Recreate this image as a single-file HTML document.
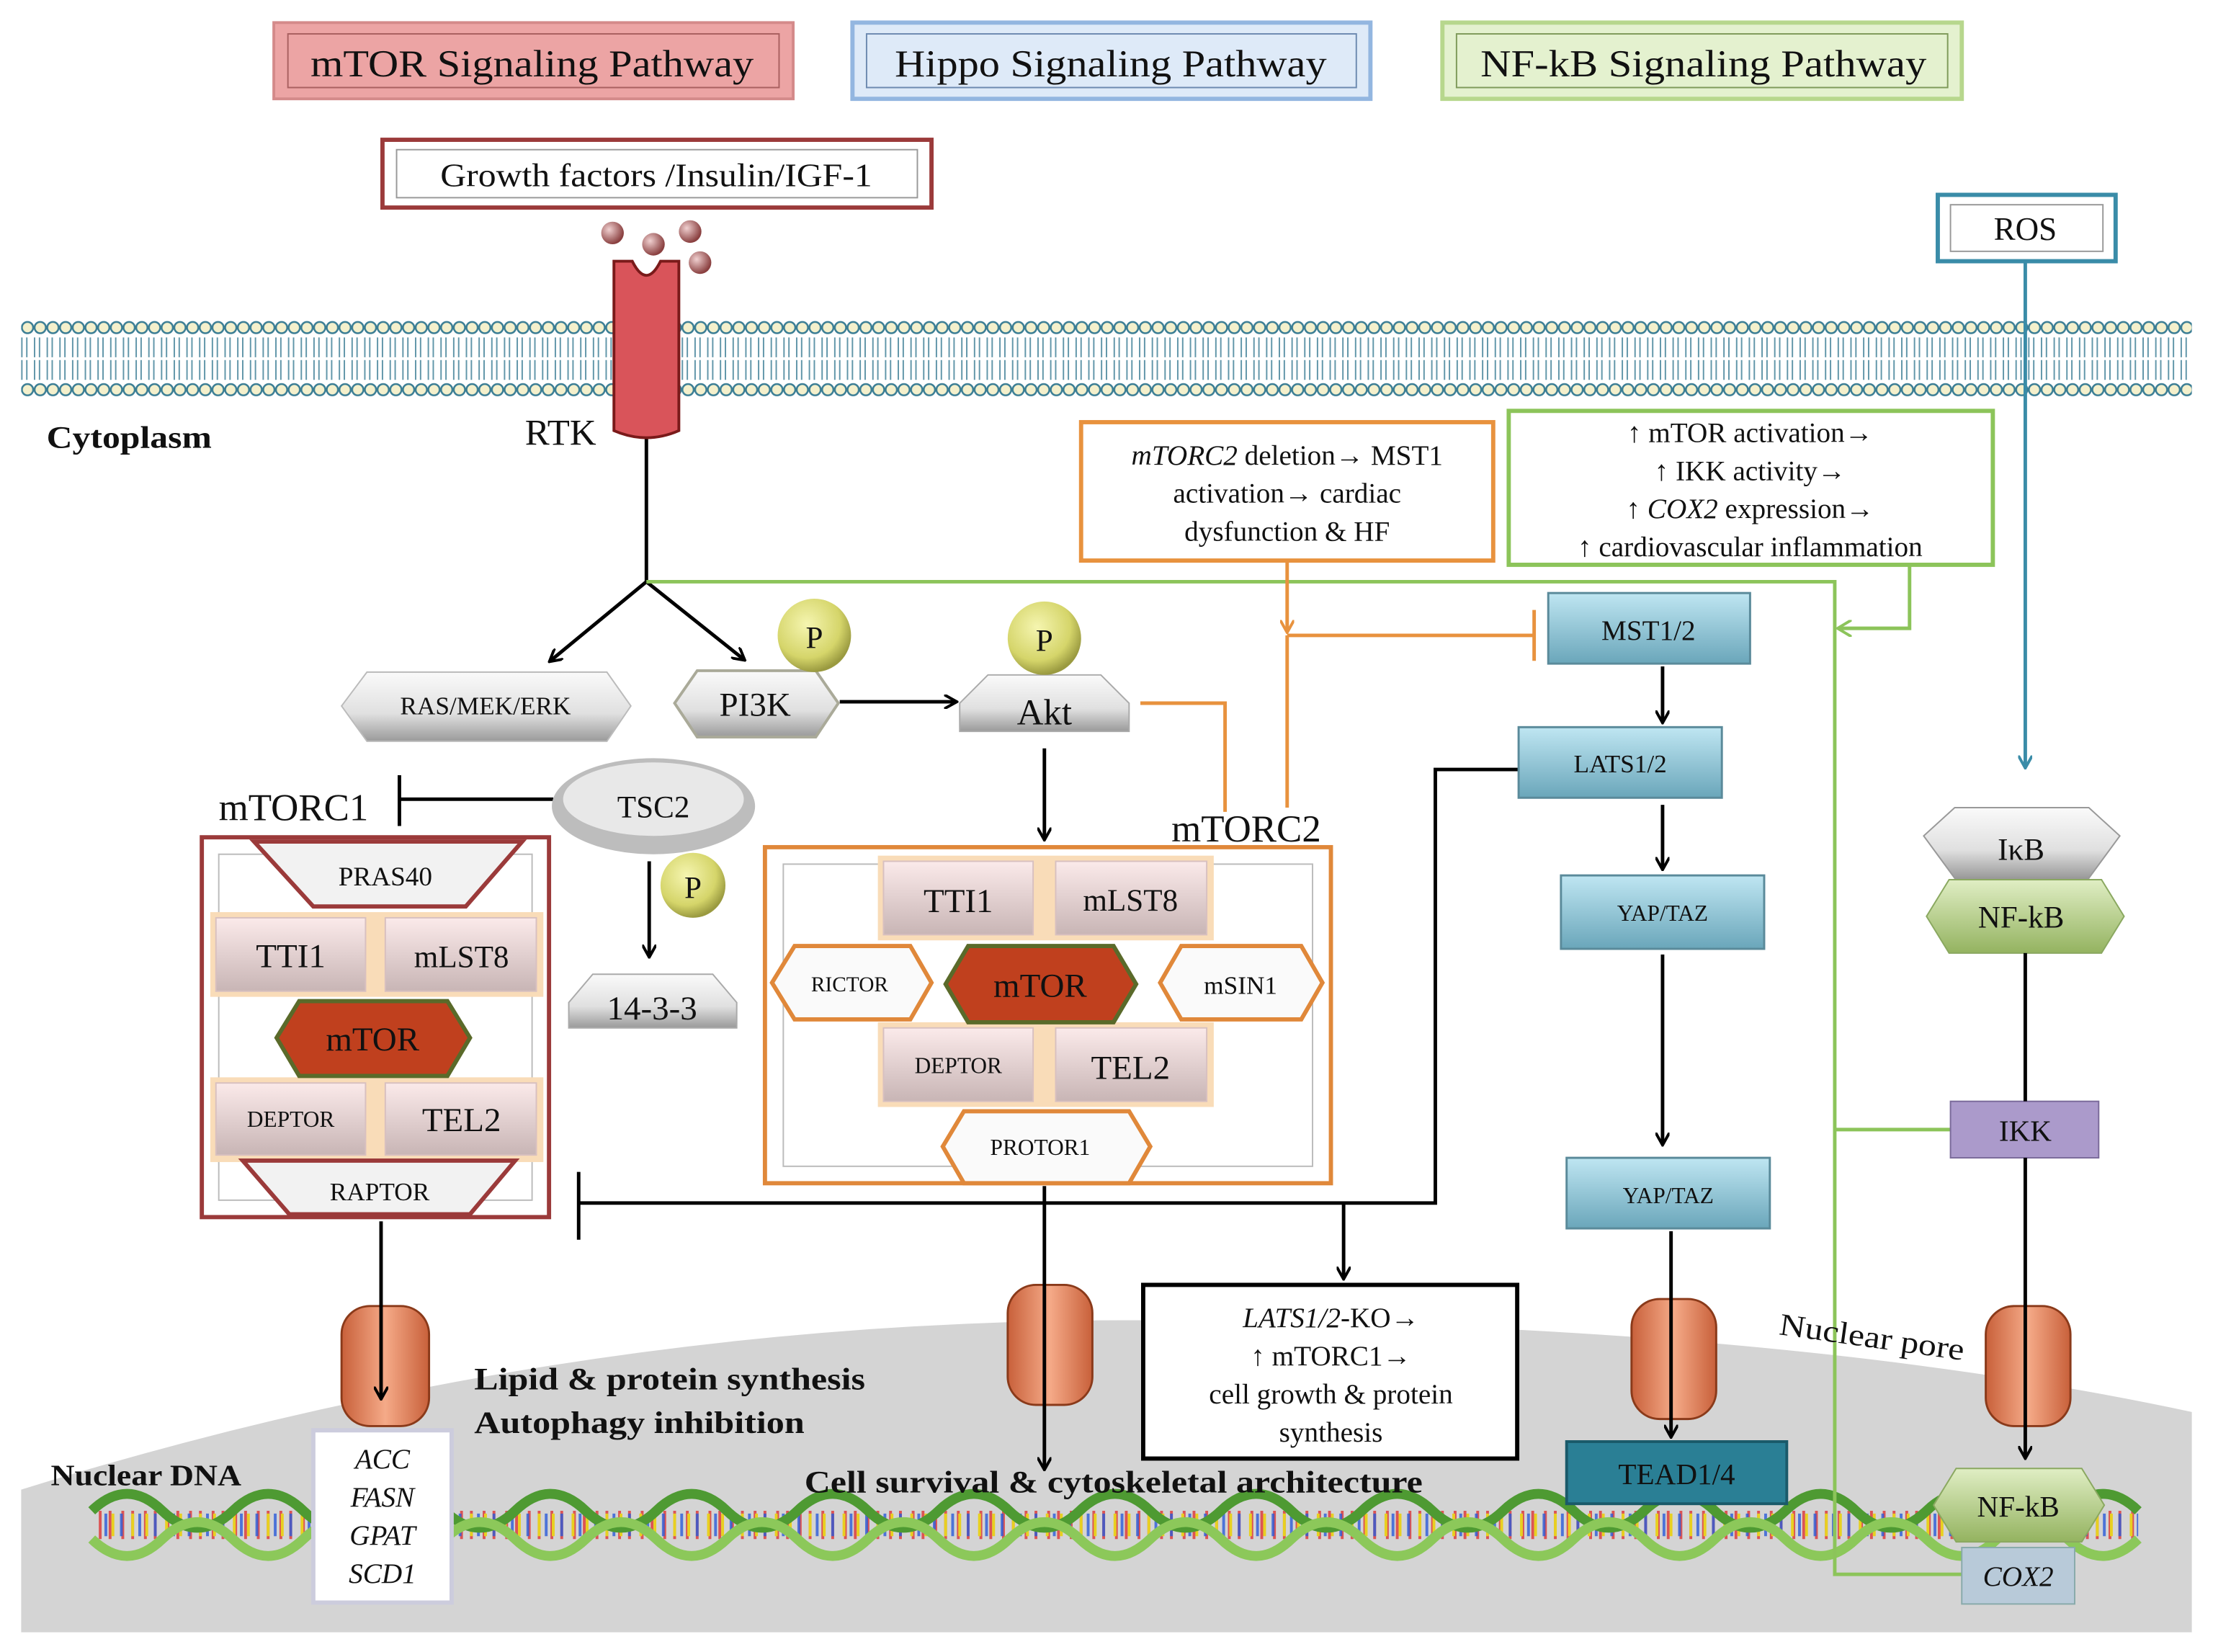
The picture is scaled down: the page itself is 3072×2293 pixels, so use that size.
<!DOCTYPE html>
<html><head><meta charset="utf-8"><style>
html,body{margin:0;padding:0;background:#fff}
svg{display:block}
text{font-family:"Liberation Serif",serif;fill:#111}
</style></head><body>
<svg width="3072" height="2293" viewBox="0 0 1568 1170" preserveAspectRatio="none" xmlns="http://www.w3.org/2000/svg">
<defs>
<pattern id="lip1" x="15" y="226" width="9" height="12" patternUnits="userSpaceOnUse">
<circle cx="4.5" cy="6" r="4" fill="#f4f0cc" stroke="#3a7d94" stroke-width="1.3"/>
</pattern>
<pattern id="lip2" x="15" y="270" width="9" height="12" patternUnits="userSpaceOnUse">
<circle cx="4.5" cy="6" r="4" fill="#f4f0cc" stroke="#3a7d94" stroke-width="1.3"/>
</pattern>
<radialGradient id="pg" cx="40%" cy="35%" r="65%"><stop offset="0" stop-color="#f5f5b0"/><stop offset="0.7" stop-color="#d5d56a"/><stop offset="1" stop-color="#9a9a40"/></radialGradient>
<radialGradient id="ballg" cx="35%" cy="35%" r="65%"><stop offset="0" stop-color="#f0d0d0"/><stop offset="1" stop-color="#8a4040"/></radialGradient>
<linearGradient id="gray" x1="0" y1="0" x2="0" y2="1"><stop offset="0" stop-color="#fafafa"/><stop offset="0.6" stop-color="#e0e0e0"/><stop offset="1" stop-color="#9a9a9a"/></linearGradient>
<linearGradient id="pinkg" x1="0" y1="0" x2="0" y2="1"><stop offset="0" stop-color="#fbeaea"/><stop offset="1" stop-color="#c8b5b5"/></linearGradient>
<linearGradient id="blueg" x1="0" y1="0" x2="0" y2="1"><stop offset="0" stop-color="#bfe6f2"/><stop offset="1" stop-color="#6aa6ba"/></linearGradient>
<linearGradient id="greeng" x1="0" y1="0" x2="0" y2="1"><stop offset="0" stop-color="#e0eec4"/><stop offset="1" stop-color="#94b360"/></linearGradient>
<linearGradient id="poreg" x1="0" y1="0" x2="1" y2="0"><stop offset="0" stop-color="#c8603a"/><stop offset="0.5" stop-color="#f5aa88"/><stop offset="1" stop-color="#c8603a"/></linearGradient>
<marker id="ab" markerWidth="10" markerHeight="10" refX="8" refY="5" orient="auto" markerUnits="userSpaceOnUse"><path d="M0,0 L9,5 L0,10" fill="none" stroke="#000" stroke-width="2"/></marker>
<marker id="ao" markerWidth="10" markerHeight="10" refX="8" refY="5" orient="auto" markerUnits="userSpaceOnUse"><path d="M0,0 L9,5 L0,10" fill="none" stroke="#e8923e" stroke-width="2"/></marker>
<marker id="ag" markerWidth="12" markerHeight="12" refX="9" refY="6" orient="auto" markerUnits="userSpaceOnUse"><path d="M0,0 L10,6 L0,12" fill="none" stroke="#8cc45a" stroke-width="2"/></marker>
<marker id="at" markerWidth="10" markerHeight="10" refX="8" refY="5" orient="auto" markerUnits="userSpaceOnUse"><path d="M0,0 L9,5 L0,10" fill="none" stroke="#3a8ca8" stroke-width="2"/></marker>
</defs>

<!-- legend -->
<rect x="194" y="16" width="368" height="54" fill="#eca4a4" stroke="#d48a8a" stroke-width="2"/>
<rect x="204" y="24" width="348" height="38" fill="none" stroke="#a96060" stroke-width="1"/>
<text x="220" y="54" font-size="27" textLength="314" lengthAdjust="spacingAndGlyphs">mTOR Signaling Pathway</text>
<rect x="604" y="16" width="367" height="54" fill="#deeaf8" stroke="#93b6e0" stroke-width="3"/>
<rect x="614" y="24" width="347" height="38" fill="none" stroke="#6d8ab0" stroke-width="1"/>
<text x="634" y="54" font-size="27" textLength="306" lengthAdjust="spacingAndGlyphs">Hippo Signaling Pathway</text>
<rect x="1022" y="16" width="368" height="54" fill="#e4f1cf" stroke="#b7d78d" stroke-width="3"/>
<rect x="1032" y="24" width="348" height="38" fill="none" stroke="#7f9a5a" stroke-width="1"/>
<text x="1049" y="54" font-size="27" textLength="316" lengthAdjust="spacingAndGlyphs">NF-kB Signaling Pathway</text>

<rect x="271" y="99" width="389" height="48" fill="#fff" stroke="#9b3a3a" stroke-width="3"/>
<rect x="281" y="106" width="369" height="34" fill="none" stroke="#999" stroke-width="1"/>
<text x="312" y="132" font-size="23" textLength="306" lengthAdjust="spacingAndGlyphs">Growth factors /Insulin/IGF-1</text>
<rect x="1373" y="138" width="126" height="47" fill="#fff" stroke="#3a8ca8" stroke-width="3"/>
<rect x="1382" y="145" width="108" height="33" fill="none" stroke="#999" stroke-width="1"/>
<text x="1435" y="170" font-size="23" text-anchor="middle">ROS</text>

<!-- membrane -->
<rect x="15" y="226" width="1538" height="12" fill="url(#lip1)"/>
<rect x="15" y="270" width="1538" height="12" fill="url(#lip2)"/>
<line x1="15" y1="246" x2="1553" y2="246" stroke="#3a7d94" stroke-width="14" stroke-dasharray="1 2.5 1 4.5" opacity="0.8"/>
<line x1="15" y1="262" x2="1553" y2="262" stroke="#3a7d94" stroke-width="14" stroke-dasharray="1 2.5 1 4.5" opacity="0.8"/>

<!-- nucleus -->
<path d="M15,1055 Q400,935 800,935 Q1250,935 1553,1000 L1553,1156 L15,1156 Z" fill="#d4d4d4"/>

<!-- DNA -->
<g fill="none">
<line x1="70" y1="1080" x2="1515" y2="1080" stroke-width="20" stroke-dasharray="2 5 2 7" stroke="#d33" opacity="0.8"/>
<line x1="74" y1="1080" x2="1515" y2="1080" stroke-width="16" stroke-dasharray="2 9 2 11" stroke="#2a5ad8" opacity="0.8"/>
<line x1="79" y1="1080" x2="1515" y2="1080" stroke-width="16" stroke-dasharray="2 12 2 8" stroke="#e8d020"/>
<path d="M65,1070 q25,-24 50,0 t50,0 t50,0 t50,0 t50,0 t50,0 t50,0 t50,0 t50,0 t50,0 t50,0 t50,0 t50,0 t50,0 t50,0 t50,0 t50,0 t50,0 t50,0 t50,0 t50,0 t50,0 t50,0 t50,0 t50,0 t50,0 t50,0 t50,0 t50,0" stroke="#4e9a32" stroke-width="7"/>
<path d="M65,1090 q25,24 50,0 t50,0 t50,0 t50,0 t50,0 t50,0 t50,0 t50,0 t50,0 t50,0 t50,0 t50,0 t50,0 t50,0 t50,0 t50,0 t50,0 t50,0 t50,0 t50,0 t50,0 t50,0 t50,0 t50,0 t50,0 t50,0 t50,0 t50,0 t50,0" stroke="#8cc85a" stroke-width="7"/>
</g>

<!-- lines -->
<g fill="none" stroke-width="2.5">
<line x1="458" y1="310" x2="458" y2="412" stroke="#000"/>
<line x1="458" y1="412" x2="390" y2="468" stroke="#000" marker-end="url(#ab)"/>
<line x1="458" y1="412" x2="527" y2="467" stroke="#000" marker-end="url(#ab)"/>
<polyline points="458,412 1300,412 1300,1115 1390,1115" stroke="#8cc45a"/>
<line x1="1300" y1="800" x2="1382" y2="800" stroke="#8cc45a"/>
<polyline points="1353,400 1353,445 1303,445" stroke="#8cc45a" marker-end="url(#ag)"/>
<line x1="912" y1="397" x2="912" y2="447" stroke="#e8923e" marker-end="url(#ao)"/>
<line x1="912" y1="450" x2="1087" y2="450" stroke="#e8923e"/>
<line x1="1087" y1="432" x2="1087" y2="468" stroke="#e8923e"/>
<line x1="912" y1="450" x2="912" y2="572" stroke="#e8923e"/>
<polyline points="808,498 868,498 868,575" stroke="#e8923e"/>
<line x1="595" y1="497" x2="677" y2="497" stroke="#000" marker-end="url(#ab)"/>
<line x1="740" y1="530" x2="740" y2="594" stroke="#000" marker-end="url(#ab)"/>
<line x1="392" y1="566" x2="283" y2="566" stroke="#000"/>
<line x1="283" y1="549" x2="283" y2="585" stroke="#000"/>
<line x1="460" y1="610" x2="460" y2="677" stroke="#000" marker-end="url(#ab)"/>
<line x1="1178" y1="472" x2="1178" y2="511" stroke="#000" marker-end="url(#ab)"/>
<line x1="1178" y1="570" x2="1178" y2="615" stroke="#000" marker-end="url(#ab)"/>
<line x1="1178" y1="676" x2="1178" y2="810" stroke="#000" marker-end="url(#ab)"/>
<polyline points="1076,545 1017,545 1017,852 410,852" stroke="#000"/>
<line x1="410" y1="830" x2="410" y2="878" stroke="#000"/>
<line x1="952" y1="852" x2="952" y2="905" stroke="#000" marker-end="url(#ab)"/>
<line x1="1435" y1="185" x2="1435" y2="543" stroke="#3a8ca8" marker-end="url(#at)"/>
</g>

<!-- RTK -->
<circle cx="434" cy="165" r="8" fill="url(#ballg)"/><circle cx="463" cy="173" r="8" fill="url(#ballg)"/><circle cx="489" cy="164" r="8" fill="url(#ballg)"/><circle cx="496" cy="186" r="8" fill="url(#ballg)"/>
<path d="M435,185 L448,185 Q458,205 468,185 L481,185 L481,305 Q458,315 435,305 Z" fill="#d9545a" stroke="#7a1a1a" stroke-width="2"/>
<text x="33" y="317" font-size="22" font-weight="bold" textLength="117" lengthAdjust="spacingAndGlyphs">Cytoplasm</text>
<text x="372" y="315" font-size="26">RTK</text>

<!-- top nodes -->
<polygon points="242,500 260,476 430,476 447,500 430,525 260,525" fill="url(#gray)" stroke="#bbb"/>
<text x="344" y="506" font-size="18" text-anchor="middle">RAS/MEK/ERK</text>
<polygon points="478,498 494,475 578,475 594,498 578,522 494,522" fill="url(#gray)" stroke="#aa9" stroke-width="2"/>
<text x="535" y="507" font-size="24" text-anchor="middle">PI3K</text>
<polygon points="680,518 680,498 700,478 780,478 800,498 800,518" fill="url(#gray)" stroke="#aaa"/>
<text x="740" y="513" font-size="26" text-anchor="middle">Akt</text>
<circle cx="577" cy="450" r="26" fill="url(#pg)"/><text x="577" y="459" font-size="22" text-anchor="middle">P</text>
<circle cx="740" cy="452" r="26" fill="url(#pg)"/><text x="740" y="461" font-size="22" text-anchor="middle">P</text>
<ellipse cx="463" cy="571" rx="72" ry="34" fill="#bdbdbd"/><ellipse cx="463" cy="566" rx="64" ry="26" fill="#e8e8e8"/>
<text x="463" y="579" font-size="22" text-anchor="middle">TSC2</text>
<circle cx="491" cy="627" r="23" fill="url(#pg)"/><text x="491" y="636" font-size="22" text-anchor="middle">P</text>
<polygon points="403,728 403,710 420,690 505,690 522,710 522,728" fill="url(#gray)" stroke="#aaa"/>
<text x="462" y="722" font-size="24" text-anchor="middle">14-3-3</text>

<!-- mTORC1 -->
<text x="155" y="581" font-size="27">mTORC1</text>
<rect x="143" y="593" width="246" height="269" fill="#fff" stroke="#9b3a3a" stroke-width="3"/>
<rect x="155" y="605" width="222" height="245" fill="none" stroke="#bbb"/>
<polygon points="180,596 370,596 330,642 222,642" fill="#f2f2f2" stroke="#9b3a3a" stroke-width="3"/>
<text x="273" y="627" font-size="19" text-anchor="middle">PRAS40</text>
<rect x="149" y="646" width="236" height="60" fill="#f9dcb8"/>
<rect x="149" y="763" width="236" height="60" fill="#f9dcb8"/>
<rect x="153" y="650" width="106" height="52" fill="url(#pinkg)" stroke="#d8c0c0"/><text x="206" y="685" font-size="24" text-anchor="middle">TTI1</text>
<rect x="273" y="650" width="107" height="52" fill="url(#pinkg)" stroke="#d8c0c0"/><text x="327" y="685" font-size="22" text-anchor="middle">mLST8</text>
<polygon points="196,735 212,709 317,709 333,735 317,762 212,762" fill="#c0401e" stroke="#5a6a2a" stroke-width="3"/>
<text x="264" y="744" font-size="24" text-anchor="middle">mTOR</text>
<rect x="153" y="767" width="106" height="51" fill="url(#pinkg)" stroke="#d8c0c0"/><text x="206" y="798" font-size="16" text-anchor="middle">DEPTOR</text>
<rect x="273" y="767" width="107" height="51" fill="url(#pinkg)" stroke="#d8c0c0"/><text x="327" y="801" font-size="24" text-anchor="middle">TEL2</text>
<polygon points="172,822 365,822 333,860 205,860" fill="#f2f2f2" stroke="#9b3a3a" stroke-width="3"/>
<text x="269" y="850" font-size="18" text-anchor="middle">RAPTOR</text>

<!-- mTORC2 -->
<text x="830" y="596" font-size="27">mTORC2</text>
<rect x="542" y="600" width="401" height="238" fill="#fff" stroke="#e0883a" stroke-width="3"/>
<rect x="555" y="612" width="375" height="214" fill="none" stroke="#bbb"/>
<rect x="622" y="606" width="238" height="60" fill="#f9dcb8"/>
<rect x="622" y="724" width="238" height="60" fill="#f9dcb8"/>
<rect x="626" y="610" width="106" height="52" fill="url(#pinkg)" stroke="#d8c0c0"/><text x="679" y="646" font-size="24" text-anchor="middle">TTI1</text>
<rect x="748" y="610" width="107" height="52" fill="url(#pinkg)" stroke="#d8c0c0"/><text x="801" y="645" font-size="22" text-anchor="middle">mLST8</text>
<polygon points="547,696 563,670 645,670 660,696 645,722 563,722" fill="#fafafa" stroke="#e0883a" stroke-width="3"/>
<text x="602" y="702" font-size="15" text-anchor="middle">RICTOR</text>
<polygon points="670,697 686,670 789,670 805,697 789,724 686,724" fill="#c0401e" stroke="#5a6a2a" stroke-width="3"/>
<text x="737" y="706" font-size="24" text-anchor="middle">mTOR</text>
<polygon points="822,696 837,670 922,670 937,696 922,722 837,722" fill="#fafafa" stroke="#e0883a" stroke-width="3"/>
<text x="879" y="704" font-size="18" text-anchor="middle">mSIN1</text>
<rect x="626" y="728" width="106" height="52" fill="url(#pinkg)" stroke="#d8c0c0"/><text x="679" y="760" font-size="16" text-anchor="middle">DEPTOR</text>
<rect x="748" y="728" width="107" height="52" fill="url(#pinkg)" stroke="#d8c0c0"/><text x="801" y="764" font-size="24" text-anchor="middle">TEL2</text>
<polygon points="668,812 683,787 800,787 815,812 800,838 683,838" fill="#fafafa" stroke="#e0883a" stroke-width="3"/>
<text x="737" y="818" font-size="16" text-anchor="middle">PROTOR1</text>

<!-- info boxes -->
<rect x="766" y="299" width="292" height="98" fill="#fff" stroke="#e8923e" stroke-width="3"/>
<text font-size="20" text-anchor="middle"><tspan x="912" y="329"><tspan font-style="italic">mTORC2</tspan> deletion→ MST1</tspan><tspan x="912" y="356">activation→ cardiac</tspan><tspan x="912" y="383">dysfunction &amp; HF</tspan></text>
<rect x="1069" y="291" width="343" height="109" fill="#fff" stroke="#8cc45a" stroke-width="3"/>
<text font-size="20" text-anchor="middle"><tspan x="1240" y="313">↑ mTOR activation→</tspan><tspan x="1240" y="340">↑ IKK activity→</tspan><tspan x="1240" y="367">↑ <tspan font-style="italic">COX2</tspan> expression→</tspan><tspan x="1240" y="394">↑ cardiovascular inflammation</tspan></text>
<rect x="810" y="910" width="265" height="123" fill="#fff" stroke="#000" stroke-width="3"/>
<text font-size="20" text-anchor="middle"><tspan x="943" y="940"><tspan font-style="italic">LATS1/2</tspan>-KO→</tspan><tspan x="943" y="967">↑ mTORC1→</tspan><tspan x="943" y="994">cell growth &amp; protein</tspan><tspan x="943" y="1021">synthesis</tspan></text>

<!-- Hippo -->
<g stroke="#5a8a9a" stroke-width="1.5">
<rect x="1097" y="420" width="143" height="50" fill="url(#blueg)"/>
<rect x="1076" y="515" width="144" height="50" fill="url(#blueg)"/>
<rect x="1106" y="620" width="144" height="52" fill="url(#blueg)"/>
<rect x="1110" y="820" width="144" height="50" fill="url(#blueg)"/>
</g>
<text x="1168" y="453" font-size="20" text-anchor="middle">MST1/2</text>
<text x="1148" y="547" font-size="18" text-anchor="middle">LATS1/2</text>
<text x="1178" y="652" font-size="16" text-anchor="middle">YAP/TAZ</text>
<text x="1182" y="852" font-size="16" text-anchor="middle">YAP/TAZ</text>

<!-- NF-kB -->
<polygon points="1363,592 1385,572 1480,572 1502,592 1480,622 1385,622" fill="url(#gray)" stroke="#999"/>
<text x="1432" y="609" font-size="22" text-anchor="middle">IκB</text>
<polygon points="1365,649 1381,623 1489,623 1505,649 1489,675 1381,675" fill="url(#greeng)" stroke="#8aa860"/>
<text x="1432" y="657" font-size="22" text-anchor="middle">NF-kB</text>
<rect x="1382" y="780" width="105" height="40" fill="#ab9acb" stroke="#7a6a9a"/>
<text x="1435" y="808" font-size="21" text-anchor="middle">IKK</text>
<line x1="1435" y1="675" x2="1435" y2="780" stroke="#000" stroke-width="2.5"/>

<!-- nuclear pores -->
<g stroke="#8a3a1a" stroke-width="1.5">
<rect x="242" y="925" width="62" height="85" rx="20" fill="url(#poreg)"/>
<rect x="714" y="910" width="60" height="85" rx="20" fill="url(#poreg)"/>
<rect x="1156" y="920" width="60" height="85" rx="20" fill="url(#poreg)"/>
<rect x="1407" y="925" width="60" height="85" rx="20" fill="url(#poreg)"/>
</g>
<g stroke-width="2.5" fill="none">
<line x1="270" y1="865" x2="270" y2="990" stroke="#000" marker-end="url(#ab)"/>
<line x1="740" y1="840" x2="740" y2="1040" stroke="#000" marker-end="url(#ab)"/>
<line x1="1184" y1="872" x2="1184" y2="1017" stroke="#000" marker-end="url(#ab)"/>
<line x1="1435" y1="820" x2="1435" y2="1032" stroke="#000" marker-end="url(#ab)"/>
</g>

<rect x="1110" y="1021" width="156" height="44" fill="#2a7f95" stroke="#1a5a6a" stroke-width="2"/>
<text x="1188" y="1051" font-size="21" text-anchor="middle">TEAD1/4</text>
<polygon points="1370,1066 1386,1040 1475,1040 1491,1066 1475,1092 1386,1092" fill="url(#greeng)" stroke="#8aa860"/>
<text x="1430" y="1074" font-size="21" text-anchor="middle">NF-kB</text>
<rect x="1390" y="1096" width="80" height="40" fill="#b8cad9" stroke="#8aa"/>
<text x="1430" y="1123" font-size="20" font-style="italic" text-anchor="middle">COX2</text>

<rect x="222" y="1013" width="98" height="122" fill="#fff" stroke="#ccd" stroke-width="3"/>
<text font-size="20" font-style="italic" text-anchor="middle"><tspan x="271" y="1040">ACC</tspan><tspan x="271" y="1067">FASN</tspan><tspan x="271" y="1094">GPAT</tspan><tspan x="271" y="1121">SCD1</tspan></text>

<text x="336" y="984" font-size="22" font-weight="bold" textLength="277" lengthAdjust="spacingAndGlyphs">Lipid &amp; protein synthesis</text>
<text x="336" y="1015" font-size="22" font-weight="bold" textLength="234" lengthAdjust="spacingAndGlyphs">Autophagy inhibition</text>
<text x="36" y="1052" font-size="21" font-weight="bold" textLength="135" lengthAdjust="spacingAndGlyphs">Nuclear DNA</text>
<text x="570" y="1057" font-size="22" font-weight="bold" textLength="438" lengthAdjust="spacingAndGlyphs">Cell survival &amp; cytoskeletal architecture</text>
<text x="1260" y="945" font-size="22" transform="rotate(8 1260 945)" textLength="132" lengthAdjust="spacingAndGlyphs">Nuclear pore</text>
</svg>
</body></html>
